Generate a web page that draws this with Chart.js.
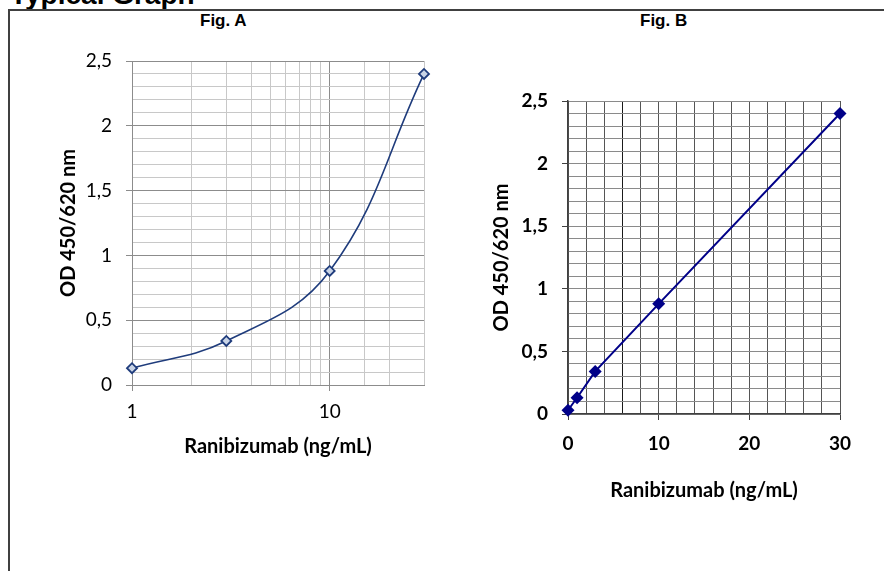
<!DOCTYPE html>
<html>
<head>
<meta charset="utf-8">
<script src="https://cdn.jsdelivr.net/npm/chart.js@4/dist/chart.umd.min.js"></script>
<style>
  body { margin: 0; background: #fff; }
  #wrap { position: relative; width: 884px; height: 571px; overflow: hidden; }
  #frame { position: absolute; left: 8px; top: 9px; width: 900px; height: 600px; border: 2px solid #404040; box-sizing: border-box; }
  .title { position: absolute; font-family: "Liberation Sans", Arial, sans-serif; font-weight: bold; color: #000; white-space: nowrap; }
  #main { left: 10px; top: -21px; font-size: 28px; }
  #figA { left: 200px; top: 11px; font-size: 17px; }
  #figB { left: 640px; top: 11px; font-size: 17px; }
  canvas { position: absolute; left: 0; top: 0; }
</style>
</head>
<body>
<div id="wrap">
  <div class="title" id="main">Typical Graph</div>
  <div id="frame"></div>
  <div class="title" id="figA">Fig. A</div>
  <div class="title" id="figB">Fig. B</div>
  <canvas id="chartA" width="884" height="571"></canvas>
  <canvas id="chartB" width="884" height="571"></canvas>
</div>
<script>
//------------ data ------------//
var conc_A = [1, 3, 10, 30];
var od_A = [0.13, 0.34, 0.88, 2.40];

var conc_B = [0, 1, 3, 10, 30];
var od_B = [0.03, 0.13, 0.34, 0.88, 2.40];

var y_labels = [0, 0.5, 1, 1.5, 2, 2.5];
var x_labels_A = [1, 10];
var x_labels_B = [0, 10, 20, 30];

var y_title = "OD 450/620 nm";
var x_title = "Ranibizumab (ng/mL)";

Chart.defaults.animation = false;
Chart.defaults.responsive = false;
Chart.defaults.font.family = "Lato, 'Open Sans', sans-serif";
Chart.defaults.color = "#000";

function isMajorY (v) {
  return y_labels.some (function (l) { return Math.abs (l - v) < 1e-6; });
}

function commaNum (v) {
  return String (Math.round (v * 10) / 10).replace (".", ",");
}

function toPoints (xs, ys) {
  var pts = [];
  for (i = 0; i < xs.length; i++) {
    pts.push ({ x: xs[i], y: ys[i] });
  }
  return pts;
}

// ------------------------ Fig. A ------------------------------
const chartA = new Chart (document.getElementById ("chartA"), {
  type: "scatter",
  data: {
    datasets: [
      {
        data: toPoints (conc_A, od_A),
        showLine: true,
        clip: false,
        borderColor: "#1f3c7c",
        borderWidth: 1.6,
        tension: 0.4,
        pointStyle: "rectRot",
        pointRadius: 5,
        pointBorderWidth: 1.8,
        pointBorderColor: "#1f3c7c",
        pointBackgroundColor: "#c9d4e6",
      },
    ],
  },
  options: {
    layout: { padding: { left: 20, top: 61, right: 460, bottom: 91 } },
    plugins: { legend: { display: false }, tooltip: { enabled: false } },
    scales: {
      x: {
        type: "logarithmic",
        min: 1,
        max: 30,
        afterFit: function (s) { s.height = 95; },
        border: { color: "#8c8c8c", width: 1 },
        grid: {
          color: function (c) { return c.tick && c.tick.value === 10 ? "#8c8c8c" : "#c8c8c8"; },
          tickLength: 6,
          tickColor: function (c) { return c.tick && x_labels_A.indexOf (c.tick.value) >= 0 ? "#8c8c8c" : "rgba(0,0,0,0)"; },
          lineWidth: 1,
        },
        ticks: {
          autoSkip: false,
          maxRotation: 0,
          padding: 9,
          font: { size: 19 },
          callback: function (v) { return x_labels_A.indexOf (v) >= 0 ? String (v) : ""; },
        },
        title: { display: true, text: x_title, font: { size: 20, weight: "bold" }, padding: { top: 0, bottom: 21 } },
      },
      y: {
        min: 0,
        max: 2.5,
        afterFit: function (s) { s.width = 112; },
        border: { color: "#8c8c8c", width: 1 },
        grid: {
          color: function (c) { return c.tick && isMajorY (c.tick.value) ? "#8c8c8c" : "#c8c8c8"; },
          tickLength: 6,
          tickColor: function (c) { return c.tick && isMajorY (c.tick.value) ? "#8c8c8c" : "rgba(0,0,0,0)"; },
        },
        ticks: {
          stepSize: 0.1,
          autoSkip: false,
          padding: 14,
          font: { size: 19 },
          callback: function (v) { return isMajorY (v) ? commaNum (v) : ""; },
        },
        title: { display: true, text: y_title, font: { size: 20, weight: "bold" }, padding: { top: 37, bottom: 0 } },
      },
    },
  },
});

// ------------------------ Fig. B ------------------------------
const chartB = new Chart (document.getElementById ("chartB"), {
  type: "scatter",
  data: {
    datasets: [
      {
        data: toPoints (conc_B, od_B),
        showLine: true,
        clip: false,
        borderColor: "#000088",
        borderWidth: 2,
        tension: 0,
        pointStyle: "rectRot",
        pointRadius: 6.5,
        pointBorderWidth: 0,
        pointBackgroundColor: "#000088",
      },
    ],
  },
  options: {
    layout: { padding: { left: 470, top: 101, right: 44, bottom: 61 } },
    plugins: { legend: { display: false }, tooltip: { enabled: false } },
    scales: {
      x: {
        type: "linear",
        min: 0,
        max: 30,
        afterFit: function (s) { s.height = 96; },
        border: { color: "#404040", width: 1.5 },
        grid: {
          color: function (c) { return c.tick && c.tick.value === 6 ? "#1a1a1a" : "#555555"; },
          tickLength: 6,
          tickColor: function (c) { return c.tick && x_labels_B.indexOf (c.tick.value) >= 0 ? "#404040" : "rgba(0,0,0,0)"; },
        },
        ticks: {
          stepSize: 2,
          autoSkip: false,
          maxRotation: 0,
          padding: 12,
          font: { size: 19, weight: "bold" },
          callback: function (v) { return x_labels_B.indexOf (v) >= 0 ? String (v) : ""; },
        },
        title: { display: true, text: x_title, font: { size: 20, weight: "bold" }, padding: { top: 0, bottom: 7 } },
      },
      y: {
        min: 0,
        max: 2.5,
        afterFit: function (s) { s.width = 98; },
        border: { color: "#404040", width: 1.5 },
        grid: {
          color: "#8a8a8a",
          tickLength: 6,
          tickColor: function (c) { return c.tick && isMajorY (c.tick.value) ? "#404040" : "rgba(0,0,0,0)"; },
        },
        ticks: {
          stepSize: 0.1,
          autoSkip: false,
          padding: 14,
          font: { size: 19, weight: "bold" },
          callback: function (v) { return isMajorY (v) ? commaNum (v) : ""; },
        },
        title: { display: true, text: y_title, font: { size: 20, weight: "bold" }, padding: { top: 20, bottom: 0 } },
      },
    },
  },
});
</script>
</body>
</html>
